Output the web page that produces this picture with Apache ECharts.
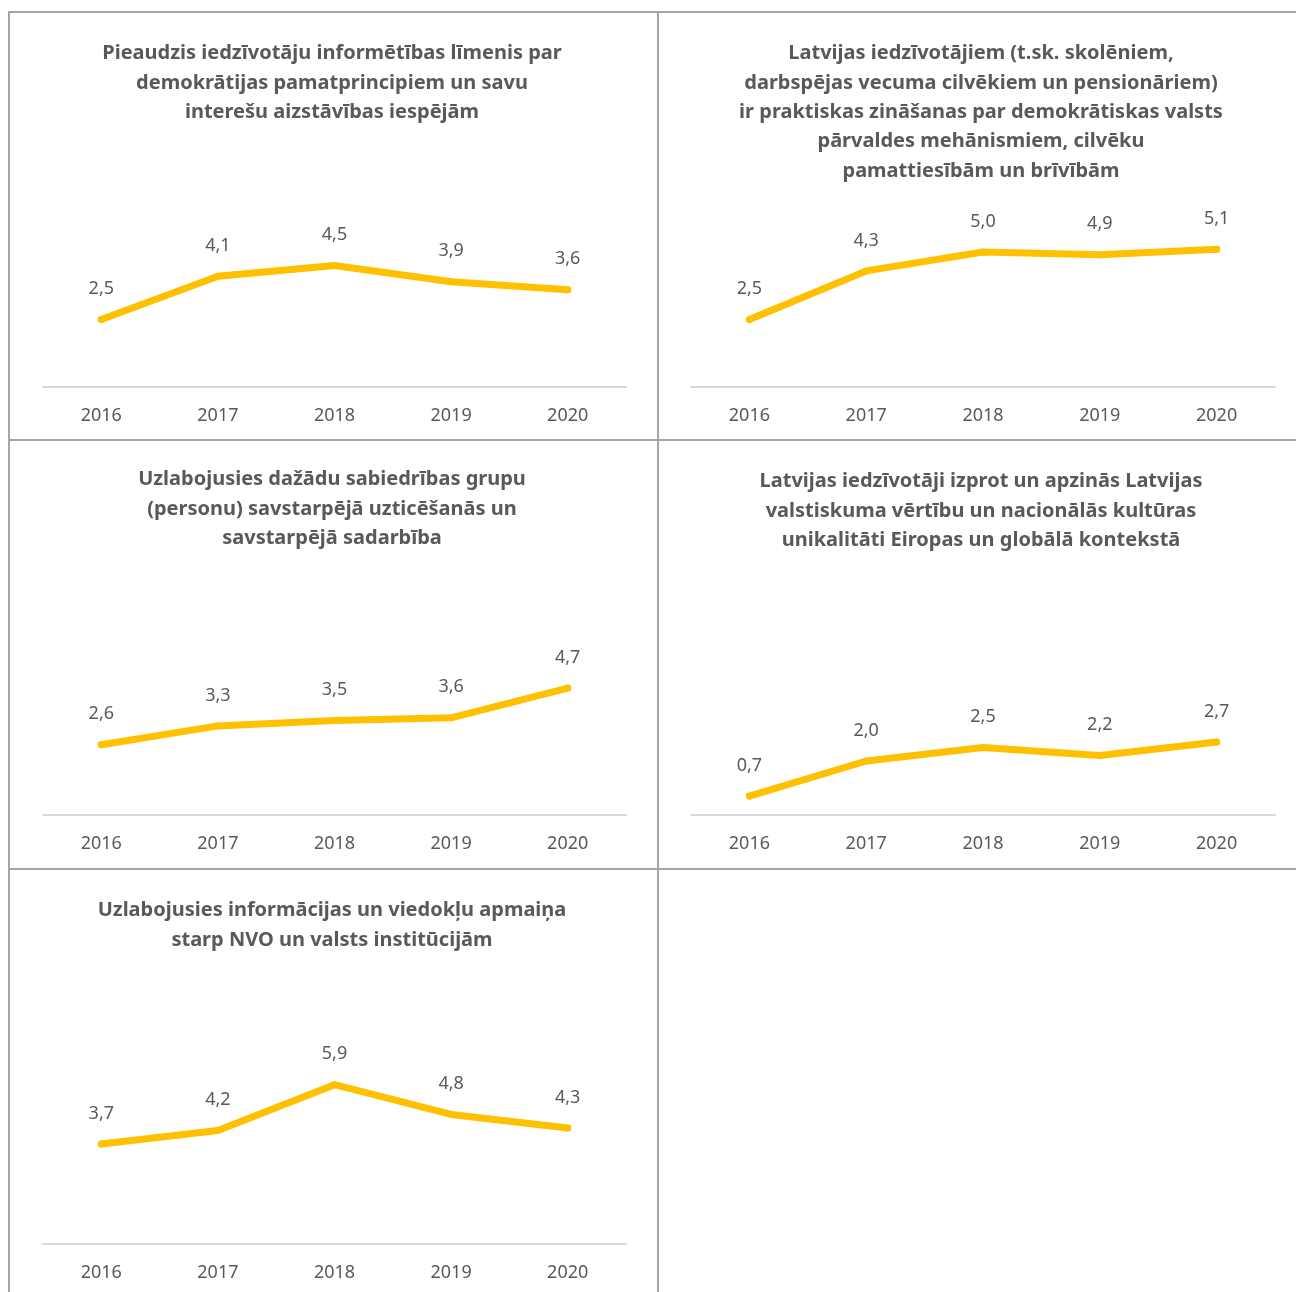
<!DOCTYPE html>
<html>
<head>
<meta charset="utf-8">
<script src="https://cdn.jsdelivr.net/npm/echarts@6/dist/echarts.min.js"></script>
<style>
  html, body { margin: 0; padding: 0; background: #fff; }
  #chart { width: 1296px; height: 1292px; }
</style>
</head>
<body>
<div id="chart"></div>
<script>
var years = ['2016', '2017', '2018', '2019', '2020'];

var titles = [
  'Pieaudzis iedzīvotāju informētības līmenis par\ndemokrātijas pamatprincipiem un savu\ninterešu aizstāvības iespējām',
  'Latvijas iedzīvotājiem (t.sk. skolēniem,\ndarbspējas vecuma cilvēkiem un pensionāriem)\nir praktiskas zināšanas par demokrātiskas valsts\npārvaldes mehānismiem, cilvēku\npamattiesībām un brīvībām',
  'Uzlabojusies dažādu sabiedrības grupu\n(personu) savstarpējā uzticēšanās un\nsavstarpējā sadarbība',
  'Latvijas iedzīvotāji izprot un apzinās Latvijas\nvalstiskuma vērtību un nacionālās kultūras\nunikalitāti Eiropas un globālā kontekstā',
  'Uzlabojusies informācijas un viedokļu apmaiņa\nstarp NVO un valsts institūcijām'
];

var informetiba = [2.5, 4.1, 4.5, 3.9, 3.6];
var zinasanas = [2.5, 4.3, 5.0, 4.9, 5.1];
var uzticesanas = [2.6, 3.3, 3.5, 3.6, 4.7];
var valstiskums = [0.7, 2.0, 2.5, 2.2, 2.7];
var apmaina = [3.7, 4.2, 5.9, 4.8, 4.3];

var allData = [informetiba, zinasanas, uzticesanas, valstiskums, apmaina];

// panel layout: column left edge / title centre, row top
var cols = [{ left: 43, width: 583, cx: 327 }, { left: 691, width: 584, cx: 976 }];
var rowTops = [12, 440, 869];
var titleShift = [0, 0, -2, 0, 0];

var font = 'Noto Sans';
var txtColor = '#595959';

var grids = [], xAxes = [], yAxes = [], series = [], titleOpts = [];

allData.forEach(function (d, i) {
  var c = cols[i % 2];
  var top = rowTops[Math.floor(i / 2)];
  var axisY = top + 375;
  grids.push({ left: c.left, width: c.width, top: axisY - 189, height: 189 });
  xAxes.push({
    type: 'category', gridIndex: i, data: years, boundaryGap: true,
    axisLine: { lineStyle: { color: '#d9d9d9', width: 2 } },
    axisTick: { show: false },
    axisLabel: { color: txtColor, fontSize: 18, fontFamily: font, margin: 20 }
  });
  yAxes.push({
    type: 'value', gridIndex: i, min: 0, max: 7, show: false,
    splitLine: { show: false }
  });
  series.push({
    type: 'line', xAxisIndex: i, yAxisIndex: i, data: d,
    symbol: 'circle', symbolSize: 7,
    itemStyle: { color: '#FFC000' },
    lineStyle: { color: '#FFC000', width: 7, cap: 'round', join: 'round' },
    label: {
      show: true, position: 'top', distance: 18,
      color: txtColor, fontSize: 18, fontFamily: font,
      formatter: function (p) { return p.value.toFixed(1).replace('.', ','); }
    },
    emphasis: { disabled: true }
  });
  titleOpts.push({
    text: titles[i], left: c.cx, top: top + 22 + titleShift[i], textAlign: 'center',
    textStyle: { color: txtColor, fontSize: 20, fontWeight: 'bold', fontFamily: font, lineHeight: 29.3 }
  });
});

var lineStyle = { stroke: '#a6a6a6', lineWidth: 2 };
var borders = [
  { x1: 8, y1: 12, x2: 1296, y2: 12 },
  { x1: 9, y1: 12, x2: 9, y2: 1292 },
  { x1: 658, y1: 12, x2: 658, y2: 1292 },
  { x1: 9, y1: 440, x2: 1296, y2: 440 },
  { x1: 9, y1: 869, x2: 1296, y2: 869 }
].map(function (s) {
  return { type: 'line', shape: s, style: lineStyle, silent: true };
});

var chart = echarts.init(document.getElementById('chart'));
chart.setOption({
  animation: false,
  backgroundColor: '#fff',
  title: titleOpts,
  grid: grids,
  xAxis: xAxes,
  yAxis: yAxes,
  series: series,
  graphic: borders
});
</script>
</body>
</html>
